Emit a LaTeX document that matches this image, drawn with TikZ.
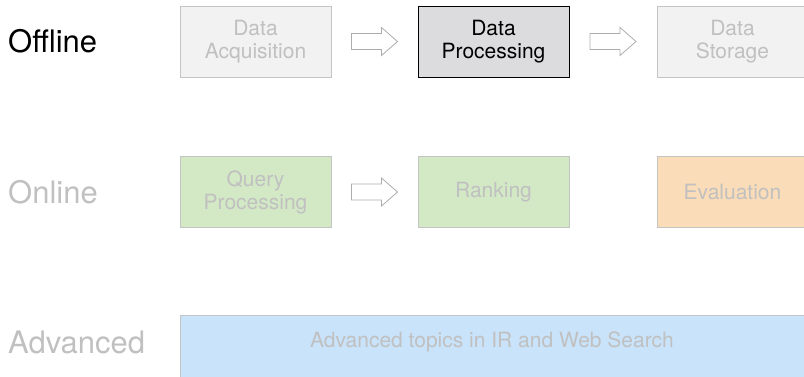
\documentclass[tikz,border=0pt]{standalone}
\usepackage{fontspec}
\setmainfont{TeX Gyre Heros}
\usepackage{tikz}
\usetikzlibrary{calc}

\definecolor{boxgray}{HTML}{F2F2F2}
\definecolor{edgegray}{HTML}{C4C4C4}
\definecolor{textgray}{HTML}{C0C0C0}
\definecolor{procgray}{HTML}{DCDCDE}
\definecolor{boxgreen}{HTML}{D3E9C6}
\definecolor{boxorange}{HTML}{FADCB8}
\definecolor{boxblue}{HTML}{C9E3FA}

\tikzset{
  stagebox/.style={draw=edgegray,line width=1pt,fill=boxgray,text=textgray,
    minimum width=151pt,minimum height=71pt,align=center,inner sep=0pt,
    font=\fontsize{21}{23}\selectfont},
  rowlabel/.style={anchor=west,inner sep=0pt,font=\fontsize{31}{36}\selectfont},
  arrowline/.style={draw=gray!65,line width=0.8pt,line join=miter}
}

% hollow block arrow centred on a named coordinate
\newcommand{\blockarrow}[1]{
  \draw[arrowline] ([xshift=-23pt,yshift=8pt]#1) -- ++(30pt,0) -- ++(0,6pt)
    -- ++(16pt,-14pt) -- ++(-16pt,-14pt) -- ++(0,6pt) -- ++(-30pt,0) -- cycle;
}

\begin{document}
\begin{tikzpicture}[x=1pt,y=1pt]

\useasboundingbox (0,0) rectangle (804,-376);

% left labels
\node [rowlabel] (offline) at (8,-41.5) {Offline};
\node [rowlabel,text=textgray] (online) at (8,-192) {Online};
\node [rowlabel,text=textgray] (advanced) at (8,-342) {Advanced};

% offline row
\node [stagebox] (acq) at (255.5,-41.5) {Data\\Acquisition};
\node [stagebox,draw=black,fill=procgray,text=black] (proc) at (493.5,-41.5) {Data\\Processing};
\node [stagebox] (stor) at (732.5,-41.5) {Data\\Storage};

% online row
\node [stagebox,fill=boxgreen] (query) at (255.5,-192) {Query\\Processing};
\node [stagebox,fill=boxgreen] (rank) at (493.5,-192) {Ranking};
\node [stagebox,fill=boxorange] (eval) at (732.5,-192) {Evaluation};

% arrows
\coordinate (a1) at ($(acq.east)!0.5!(proc.west)$);
\coordinate (a2) at ($(proc.east)!0.5!(stor.west)$);
\coordinate (a3) at ($(query.east)!0.5!(rank.west)$);
\blockarrow{a1}
\blockarrow{a2}
\blockarrow{a3}

% advanced row
\draw [draw=edgegray,line width=1pt,fill=boxblue] (180,-380) rectangle (808,-315);
\node [text=textgray,font=\fontsize{21}{23}\selectfont] (topics) at (492,-342) {Advanced topics in IR and Web Search};

\end{tikzpicture}
\end{document}
